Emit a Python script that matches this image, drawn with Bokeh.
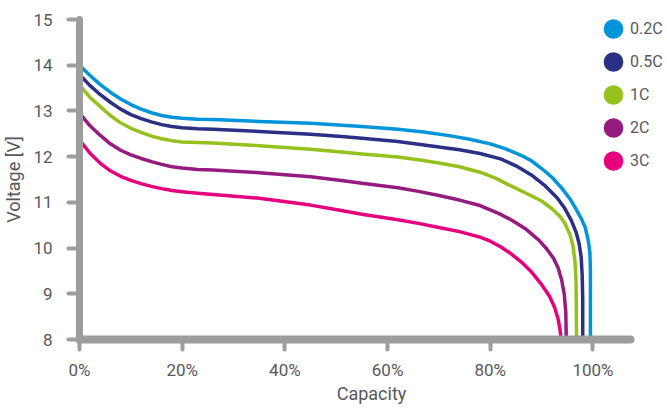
from bokeh.plotting import figure
from bokeh.models import Range1d, FixedTicker, Legend, LegendItem
from bokeh.embed import file_html
from bokeh.resources import INLINE

# ---- data (capacity in %, voltage in V) ----
series_names = ["0.2C", "0.5C", "1C", "2C", "3C"]
series_colors = ["#0095da", "#2b2f86", "#95c11f", "#951b81", "#e6007e"]

cap_02C = [0, 2, 4, 6, 8, 10, 12, 14, 16, 18, 20, 23, 26, 35, 45, 55, 62, 67, 72, 76, 80, 83, 86, 88, 90, 92, 94, 95.5, 96.7, 97.7, 98.5, 99.1, 99.4, 99.5, 99.5]
volt_02C = [14.0, 13.78, 13.58, 13.41, 13.26, 13.14, 13.04, 12.96, 12.9, 12.86, 12.84, 12.82, 12.81, 12.77, 12.73, 12.66, 12.6, 12.54, 12.46, 12.38, 12.28, 12.17, 12.03, 11.91, 11.74, 11.55, 11.3, 11.08, 10.85, 10.65, 10.45, 10.15, 9.9, 9.5, 8.0]

cap_05C = [0, 2, 4, 6, 8, 10, 12, 14, 16, 18, 20, 23, 26, 35, 45, 51, 55, 62, 66, 70, 74, 78, 82, 85, 88, 90.7, 93, 94.5, 95.8, 96.7, 97.3, 97.7, 97.9, 98.0, 98.0]
volt_05C = [13.8, 13.56, 13.36, 13.19, 13.04, 12.92, 12.83, 12.76, 12.7, 12.66, 12.63, 12.61, 12.6, 12.55, 12.49, 12.44, 12.40, 12.33, 12.27, 12.21, 12.15, 12.07, 11.95, 11.8, 11.6, 11.36, 11.1, 10.87, 10.6, 10.35, 10.1, 9.8, 9.4, 8.9, 8.0]

cap_1C = [0, 2, 4, 6, 8, 10, 12, 14, 16, 18, 20, 23, 26, 35, 45, 51, 55, 62, 66, 70, 74, 78, 81, 84, 87, 90, 92, 93.5, 94.5, 95.5, 96.1, 96.5, 96.7, 96.8]
volt_1C = [13.57, 13.3, 13.1, 12.9, 12.74, 12.62, 12.53, 12.45, 12.39, 12.35, 12.32, 12.31, 12.30, 12.24, 12.16, 12.10, 12.06, 11.99, 11.93, 11.86, 11.78, 11.66, 11.53, 11.36, 11.2, 11.03, 10.86, 10.7, 10.55, 10.3, 10.05, 9.7, 9.3, 8.0]

cap_2C = [0, 2, 4, 6, 8, 10, 12, 14, 16, 18, 20, 23, 26, 35, 45, 51, 55, 62, 66, 70, 74, 78, 81.6, 84.2, 87, 89.5, 91, 92.3, 93.2, 93.9, 94.4, 94.7, 94.8]
volt_2C = [12.95, 12.68, 12.47, 12.28, 12.14, 12.04, 11.96, 11.89, 11.83, 11.78, 11.75, 11.72, 11.71, 11.65, 11.56, 11.48, 11.42, 11.32, 11.24, 11.15, 11.05, 10.93, 10.76, 10.61, 10.41, 10.17, 9.98, 9.78, 9.57, 9.3, 9.0, 8.6, 8.0]

cap_3C = [0, 2, 4, 6, 8, 10, 12, 14, 16, 18, 20, 23, 26, 35, 45, 51, 55, 62, 66, 70, 74, 78, 80, 82, 84, 86, 88, 90, 91.5, 92.5, 93.2, 93.6, 93.8]
volt_3C = [12.37, 12.08, 11.86, 11.69, 11.57, 11.48, 11.41, 11.35, 11.3, 11.26, 11.23, 11.2, 11.17, 11.09, 10.94, 10.82, 10.74, 10.62, 10.54, 10.45, 10.36, 10.24, 10.15, 10.03, 9.88, 9.7, 9.48, 9.2, 8.95, 8.71, 8.45, 8.2, 8.0]

x_ticks = [0, 20, 40, 60, 80, 100]
x_tick_labels = ["0%", "20%", "40%", "60%", "80%", "100%"]
y_ticks = [8, 9, 10, 11, 12, 13, 14, 15]

series_x = [cap_02C, cap_05C, cap_1C, cap_2C, cap_3C]
series_y = [volt_02C, volt_05C, volt_1C, volt_2C, volt_3C]

axis_color = "#9d9d9c"
text_color = "#58585a"
font = "Roboto"

W, H = 663, 407
LEFT, TOP, BOTTOM = 75, 19, 68
px_per_pct = 5.17
x_end = (W - LEFT) / px_per_pct
axis_end = 107.3

p = figure(width=W, height=H, output_backend="svg", toolbar_location=None,
           x_range=Range1d(0, x_end), y_range=Range1d(8, 15),
           min_border_left=LEFT, min_border_right=0, min_border_top=TOP, min_border_bottom=BOTTOM,
           background_fill_color="white", border_fill_color="white")
p.outline_line_color = None
p.xgrid.visible = False
p.ygrid.visible = False

for xs, ys, c in zip(series_x, series_y, series_colors):
    p.line(xs, ys, line_color=c, line_width=3.5, line_join="round", line_cap="round")

# axes styling
p.xaxis.ticker = FixedTicker(ticks=x_ticks)
p.xaxis.major_label_overrides = {t: l for t, l in zip(x_ticks, x_tick_labels)}
p.xaxis.bounds = (0, axis_end)
p.yaxis.ticker = FixedTicker(ticks=y_ticks)
p.xaxis.axis_label = "Capacity"
p.yaxis.axis_label = "Voltage [V]"

for ax in (p.xaxis[0], p.yaxis[0]):
    ax.axis_line_color = axis_color
    ax.axis_line_cap = "round"
    ax.major_tick_line_color = axis_color
    ax.major_tick_line_width = 4
    ax.major_tick_line_cap = "round"
    ax.major_tick_in = 0
    ax.minor_tick_line_color = None
    ax.major_label_text_font = font
    ax.major_label_text_font_size = "17px"
    ax.major_label_text_color = text_color
    ax.axis_label_text_font = font
    ax.axis_label_text_font_size = "18px"
    ax.axis_label_text_font_style = "normal"
    ax.axis_label_text_color = text_color

p.xaxis.axis_line_width = 8
p.yaxis.axis_line_width = 7
p.xaxis.major_tick_out = 10
p.xaxis.major_label_standoff = 10
p.xaxis.axis_label_standoff = 0
p.yaxis.major_tick_out = 11
p.yaxis.major_label_standoff = 16
p.yaxis.axis_label_standoff = 6

# legend with round dots (scatter renderers holding a single NaN point;
# the marker outline widens the legend dot)
nan = float("nan")
items = []
for name, c in zip(series_names, series_colors):
    r = p.scatter(x=[nan], y=[nan], marker="circle", size=19,
                  fill_color=c, line_color=c, line_width=6.5)
    items.append(LegendItem(label=name, renderers=[r]))
legend = Legend(items=items, location=(517, 162), orientation="vertical",
                glyph_width=34, glyph_height=33, label_height=20, spacing=0,
                padding=0, margin=0, label_standoff=0,
                label_text_font=font, label_text_font_size="16px",
                label_text_color=text_color,
                border_line_color=None, background_fill_alpha=0)
p.add_layout(legend)

open("out.html", "w").write(file_html(p, INLINE))
